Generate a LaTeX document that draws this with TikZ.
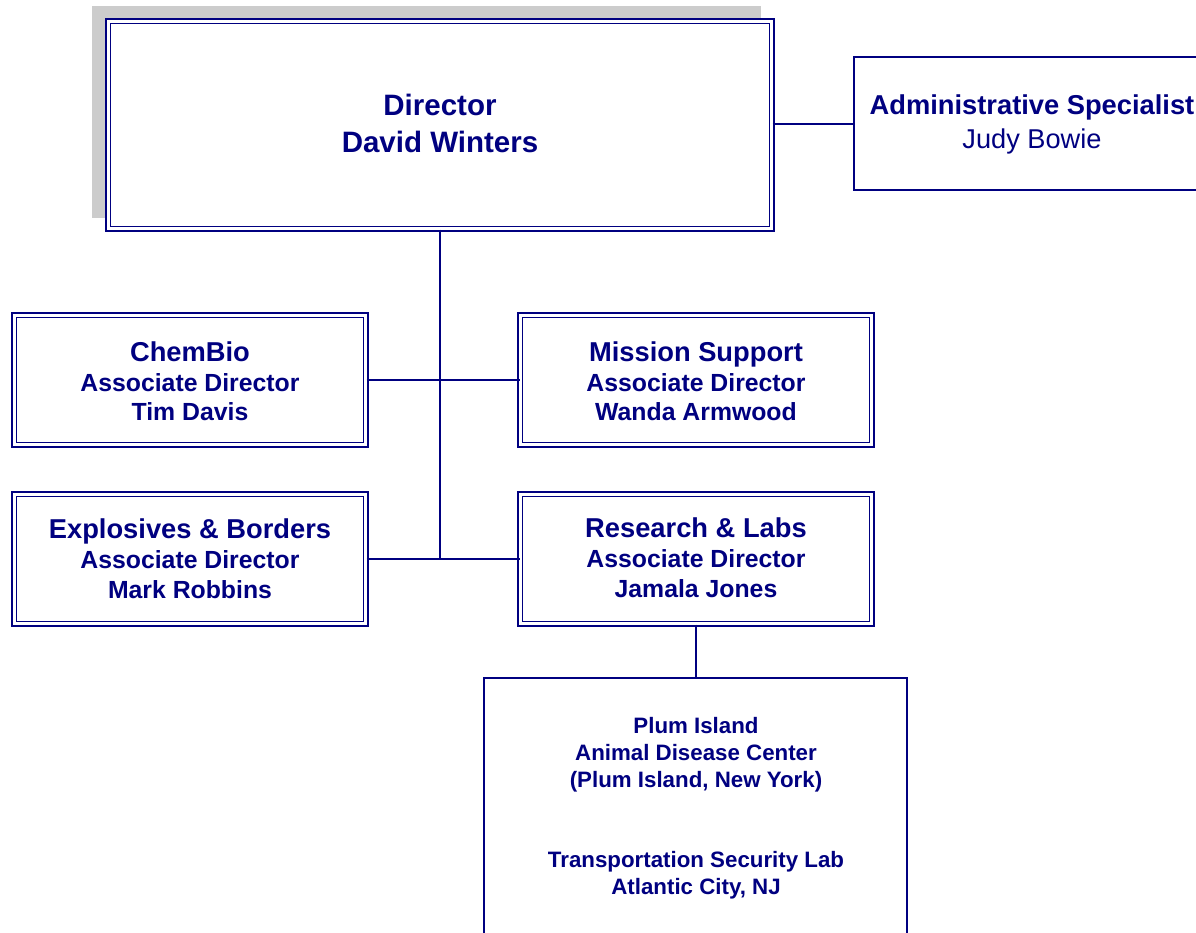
\documentclass[tikz,border=0pt]{standalone}
\usepackage{fontspec}
\setmainfont{Liberation Sans}
\definecolor{navy}{RGB}{0,0,128}
\definecolor{shadowgray}{RGB}{204,204,204}
\tikzset{
  dbox/.style={draw=navy, line width=1.5bp, double=white, double distance=2.8bp, inner sep=0pt},
  sbox/.style={draw=navy, line width=1.6bp, inner sep=0pt},
  conn/.style={draw=navy, line width=1.6bp},
  ttl/.style={text=navy, anchor=base, inner sep=0pt, font=\fontsize{27.3bp}{30bp}\selectfont\bfseries},
  sub/.style={text=navy, anchor=base, inner sep=0pt, font=\fontsize{24.8bp}{28bp}\selectfont\bfseries},
  dirtxt/.style={text=navy, anchor=base, inner sep=0pt, font=\fontsize{29.5bp}{32bp}\selectfont\bfseries},
  admtxt/.style={text=navy, anchor=base, inner sep=0pt, font=\fontsize{27.2bp}{30bp}\selectfont},
  labtxt/.style={text=navy, anchor=base, inner sep=0pt, font=\fontsize{22.3bp}{26bp}\selectfont\bfseries},
}
\begin{document}
\begin{tikzpicture}[x=1bp, y=-1bp]
\useasboundingbox (0,0) rectangle (1196,933);
\clip (0,0) rectangle (1196,933);
% shadow
\fill[shadowgray] (92,6) rectangle (761,218);
% boxes
\node[dbox, fill=white, minimum width=663.5bp, minimum height=207.5bp] (dir) at (440,125) {};
\node[sbox, minimum width=360bp, minimum height=133bp] (adm) at (1034,123.5) {};
\node[dbox, minimum width=351.5bp, minimum height=129.5bp] (chem) at (190,380) {};
\node[dbox, minimum width=351.5bp, minimum height=129.5bp] (miss) at (696,380) {};
\node[dbox, minimum width=351.5bp, minimum height=129.5bp] (expl) at (190,559) {};
\node[dbox, minimum width=351.5bp, minimum height=129.5bp] (res) at (696,559) {};
\node[sbox, minimum width=423bp, minimum height=300bp] (plum) at (695.5,828) {};
% connectors
\coordinate (junc) at (440,560);
\draw[conn] (dir.south) -- (junc);
\draw[conn] (chem.east) -- (miss.west);
\draw[conn] (expl.east) -- (res.west);
\draw[conn] (dir.east |- 0,124) -- (adm.west |- 0,124);
\draw[conn] (res.south) -- (plum.north -| res.south);
% texts
\node[dirtxt] (t1) at (440,115) {Director};
\node[dirtxt] (t2) at (440,152) {David Winters};
\node[ttl] (a1) at (1032,114.5) {Administrative Specialist};
\node[admtxt] (a2) at (1032,148) {Judy Bowie};
\node[ttl] (c1) at (190,361) {ChemBio};
\node[sub] (c2) at (190,391) {Associate Director};
\node[sub] (c3) at (190,420) {Tim Davis};
\node[ttl] (m1) at (696,361) {Mission Support};
\node[sub] (m2) at (696,391) {Associate Director};
\node[sub] (m3) at (696,420) {Wanda Armwood};
\node[ttl] (e1) at (190,538) {Explosives \& Borders};
\node[sub] (e2) at (190,568) {Associate Director};
\node[sub] (e3) at (190,598) {Mark Robbins};
\node[ttl] (r1) at (696,537) {Research \& Labs};
\node[sub] (r2) at (696,567) {Associate Director};
\node[sub] (r3) at (696,597) {Jamala Jones};
\node[labtxt] (p1) at (696,733) {Plum Island};
\node[labtxt] (p2) at (696,760.5) {Animal Disease Center};
\node[labtxt] (p3) at (696,787) {(Plum Island, New York)};
\node[labtxt] (p4) at (696,867.5) {Transportation Security Lab};
\node[labtxt] (p5) at (696,894) {Atlantic City, NJ};
\end{tikzpicture}
\end{document}
